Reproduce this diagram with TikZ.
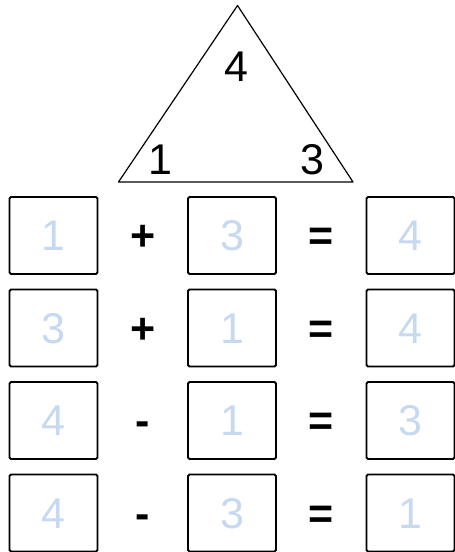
\documentclass[tikz,border=0pt]{standalone}
\usepackage{fontspec}
\setmainfont{Liberation Sans}
\usetikzlibrary{positioning, calc}
\definecolor{ansblue}{RGB}{198,217,241}

\begin{document}
\begin{tikzpicture}[x=1pt, y=1pt,
    node distance=15.5pt and 90.5pt,
    digit/.style={font=\fontsize{43}{43}\selectfont, text height=31pt, text depth=0pt, inner sep=0pt},
    answer/.style={digit, rectangle, draw=black, line width=1.8pt, rounded corners=1.5pt, outer sep=0pt, minimum width=88pt, minimum height=77pt, text=ansblue},
    sign/.style={digit, font=\fontsize{43}{43}\selectfont\bfseries, text=black}]

    \useasboundingbox (0,0) rectangle (455,552);

    % Fact triangle
    \draw[line width=1.2pt, line join=round] (118.5,370) -- (237.5,546.5) -- (353,370) -- cycle;
    \node[digit] (top) at (236,486) {4};
    \node[digit] (left) at (160,392.5) {1};
    \node[digit] (right) at (312,392.5) {3};

    % Row 1: 1 + 3 = 4
    \node[answer] (a1) at (53.5,316.5) {1};
    \node[answer, right=of a1] (b1) {3};
    \node[answer, right=of b1] (c1) {4};
    \node[sign] (p1) at ($(a1)!0.5!(b1)$) {+};
    \node[sign] (q1) at ($(b1)!0.5!(c1)$) {=};

    % Row 2: 3 + 1 = 4
    \node[answer, below=of a1] (a2) {3};
    \node[answer, below=of b1] (b2) {1};
    \node[answer, below=of c1] (c2) {4};
    \node[sign] (p2) at ($(a2)!0.5!(b2)$) {+};
    \node[sign] (q2) at ($(b2)!0.5!(c2)$) {=};

    % Row 3: 4 - 1 = 3
    \node[answer, below=of a2] (a3) {4};
    \node[answer, below=of b2] (b3) {1};
    \node[answer, below=of c2] (c3) {3};
    \node[sign] (p3) at ($(a3)!0.5!(b3)$) {-};
    \node[sign] (q3) at ($(b3)!0.5!(c3)$) {=};

    % Row 4: 4 - 3 = 1
    \node[answer, below=of a3] (a4) {4};
    \node[answer, below=of b3] (b4) {3};
    \node[answer, below=of c3] (c4) {1};
    \node[sign] (p4) at ($(a4)!0.5!(b4)$) {-};
    \node[sign] (q4) at ($(b4)!0.5!(c4)$) {=};
\end{tikzpicture}
\end{document}
